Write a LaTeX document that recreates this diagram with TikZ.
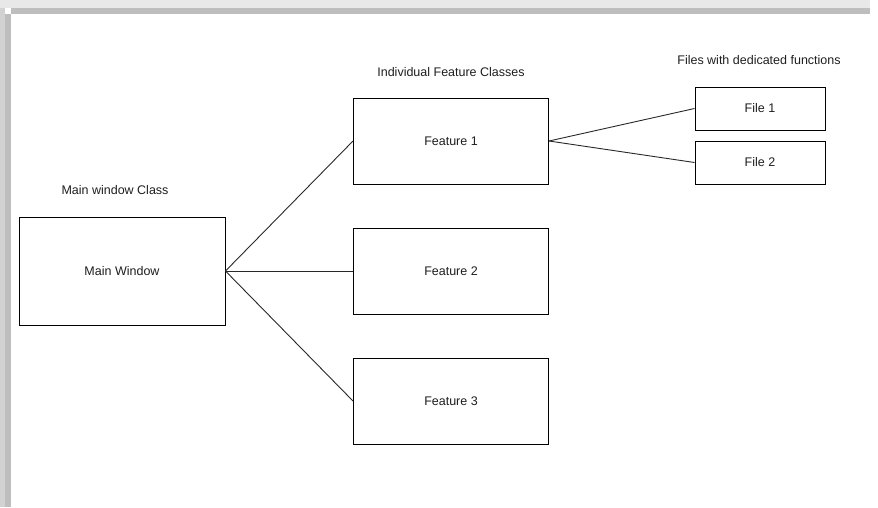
\documentclass[tikz,border=0pt]{standalone}
\usepackage{fontspec}
\setmainfont{Liberation Sans}
\usetikzlibrary{positioning}
\definecolor{dgLine}{RGB}{40,40,40}
\definecolor{dgText}{RGB}{30,30,30}
\definecolor{dgShadeA}{RGB}{232,232,232}
\definecolor{dgShadeB}{RGB}{190,190,190}
\definecolor{dgShadeC}{RGB}{210,210,210}
\tikzset{
    base/.style={font=\fontsize{12.5}{14}\selectfont, text=dgText, align=center},
    classbox/.style={base, rectangle, draw=black, line width=1pt, fill=white, inner sep=0pt},
    title/.style={base},
    link/.style={draw=dgLine, line width=0.9pt}
}
\begin{document}
\begin{tikzpicture}[x=1pt, y=-1pt]
  \useasboundingbox (0,0) rectangle (878,507);
  % page shadow
  \fill[dgShadeA] (0,0) rectangle (870,8);
  \fill[dgShadeB] (11,8) rectangle (870,14);
  \fill[dgShadeC] (0,8) rectangle (5,507);
  \fill[dgShadeB] (5,14) rectangle (11,507);

  \node[title] (mainTitle) at (115,190) {Main window Class};
  \node[classbox, minimum width=206pt, minimum height=108pt] (main) at (122,271) {Main Window};

  \node[title] (featTitle) at (451,72) {Individual Feature Classes};
  \node[classbox, minimum width=195pt, minimum height=86pt] (feat1) at (451,141) {Feature 1};
  \node[classbox, minimum width=195pt, minimum height=86pt] (feat2) at (451,271) {Feature 2};
  \node[classbox, minimum width=195pt, minimum height=86pt] (feat3) at (451,401) {Feature 3};

  \node[title] (fileTitle) at (759,60) {Files with dedicated functions};
  \node[classbox, minimum width=130pt, minimum height=43pt] (file1) at (760,108.5) {File 1};
  \node[classbox, minimum width=130pt, minimum height=43pt] (file2) at (760,162.5) {File 2};

  \draw[link] (main.east) -- (feat1.west);
  \draw[link] (main.east) -- (feat2.west);
  \draw[link] (main.east) -- (feat3.west);
  \draw[link] (feat1.east) -- (file1.west);
  \draw[link] (feat1.east) -- (file2.west);
\end{tikzpicture}
\end{document}
